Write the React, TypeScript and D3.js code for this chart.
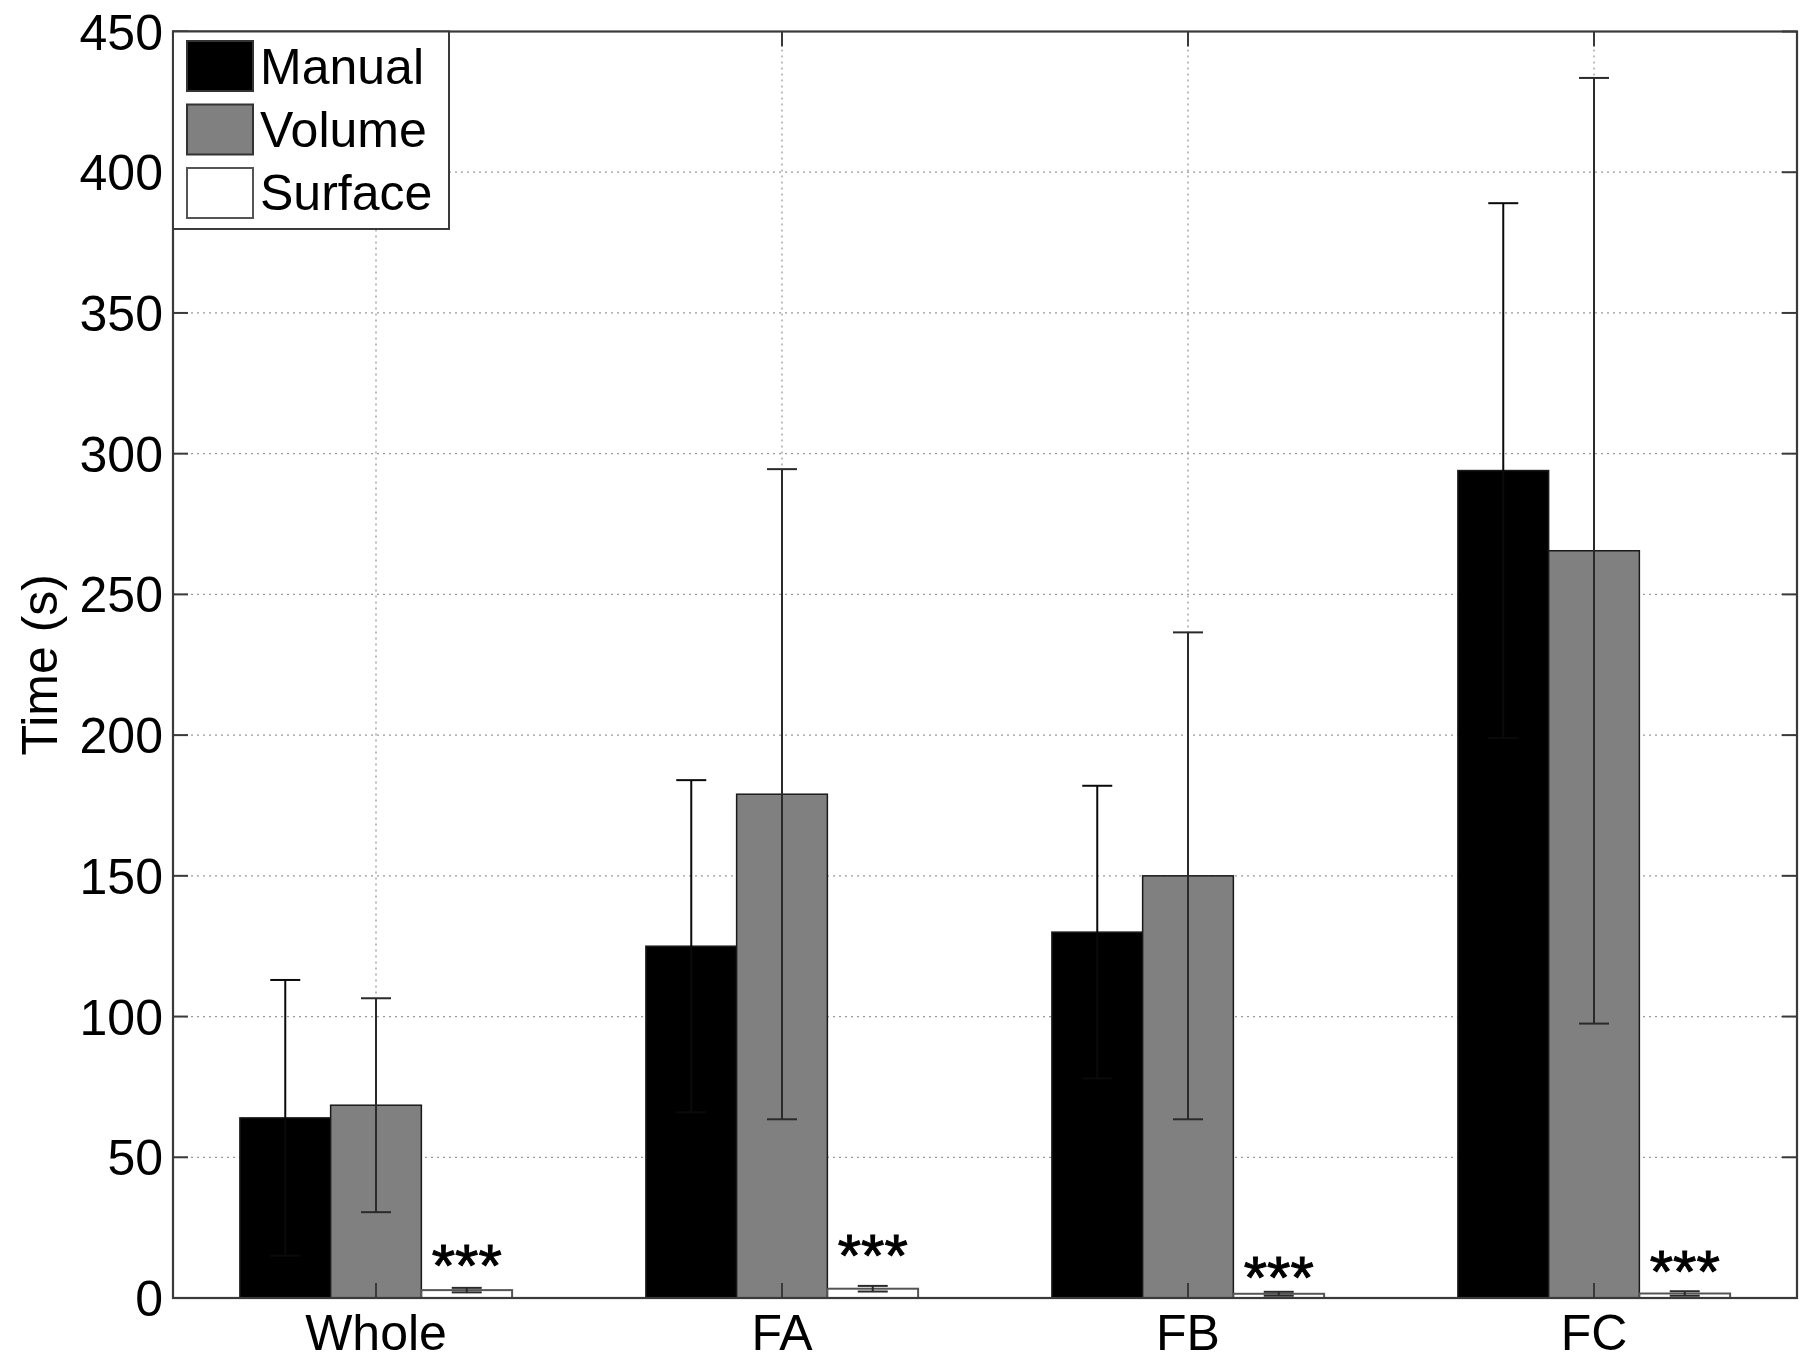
import React from "react";
import * as d3 from "d3";

const categories = ["Whole", "FA", "FB", "FC"];
const seriesNames = ["Manual", "Volume", "Surface"];
const seriesColors = ["#000000", "#808080", "#ffffff"];
const manualMean = [64, 125, 130, 294];
const manualErr = [49, 59, 52, 95];
const volumeMean = [68.5, 179, 150, 265.5];
const volumeErr = [38, 115.5, 86.5, 168];
const surfaceMean = [2.8, 3.3, 1.5, 1.6];
const surfaceErr = [0.8, 1.0, 0.7, 0.8];
const starLevels = [16.5, 20, 12, 14.2];
const starText = "***";
const yTicks = [0, 50, 100, 150, 200, 250, 300, 350, 400, 450];
const yLabel = "Time (s)";

const W = 1802;
const H = 1361;
const L = 173;
const R = 1797;
const T = 31.5;
const B = 1298;
const FONT = "'Liberation Sans', Arial, Helvetica, sans-serif";

export default function App() {
  const x = d3.scaleLinear().domain([0.5, 4.5]).range([L, R]);
  const y = d3.scaleLinear().domain([0, 450]).range([B, T]);
  const barW = 0.2235;
  const means = [manualMean, volumeMean, surfaceMean];
  const errs = [manualErr, volumeErr, surfaceErr];
  const axisColor = "#3a3a3a";
  const tickLen = 15;
  const starSize = 60;

  return (
    <svg
      width={W}
      height={H}
      style={{ position: "absolute", left: 0, top: 0, background: "#fff" }}
      fontFamily={FONT}
    >
      <rect x={0} y={0} width={W} height={H} fill="#fff" />
      {/* grid */}
      {yTicks.slice(1, -1).map((t) => (
        <line key={"gy" + t} x1={L} x2={R} y1={y(t)} y2={y(t)} stroke="#9a9a9a" strokeWidth={1.3} strokeDasharray="2,4" />
      ))}
      {categories.map((c, i) => (
        <line key={"gx" + c} x1={x(i + 1)} x2={x(i + 1)} y1={T} y2={B} stroke="#9a9a9a" strokeWidth={1.3} strokeDasharray="2,4" />
      ))}
      {/* bars */}
      {categories.map((c, i) =>
        means.map((m, s) => {
          const x0 = x(i + 1 + (s - 1) * barW - barW / 2);
          const x1 = x(i + 1 + (s - 1) * barW + barW / 2);
          return (
            <rect
              key={c + s}
              x={x0}
              y={y(m[i])}
              width={x1 - x0}
              height={y(0) - y(m[i])}
              fill={seriesColors[s]}
              stroke={s === 2 ? "#555" : "#1a1a1a"}
              strokeWidth={s === 2 ? 2 : 1.5}
            />
          );
        })
      )}
      {/* error bars */}
      {categories.map((c, i) =>
        means.map((m, s) => {
          const cx = x(i + 1 + (s - 1) * barW);
          const lo = y(m[i] - errs[s][i]);
          const hi = y(m[i] + errs[s][i]);
          const cap = 15;
          const col = s === 0 ? "#0a0a0a" : "#2a2a2a";
          return (
            <g key={"e" + c + s} stroke={col} strokeWidth={2}>
              <line x1={cx} x2={cx} y1={lo} y2={hi} />
              <line x1={cx - cap} x2={cx + cap} y1={hi} y2={hi} />
              <line x1={cx - cap} x2={cx + cap} y1={lo} y2={lo} />
            </g>
          );
        })
      )}
      {/* stars */}
      {categories.map((c, i) => (
        <text
          key={"st" + c}
          x={x(i + 1 + barW)}
          y={y(starLevels[i]) + 0.57 * starSize}
          fontSize={starSize}
          textAnchor="middle"
          fill="#000"
          stroke="#000"
          strokeWidth={1}
        >
          {starText}
        </text>
      ))}
      {/* axes box */}
      <rect x={L} y={T} width={R - L} height={B - T} fill="none" stroke={axisColor} strokeWidth={2.2} />
      {yTicks.map((t) => (
        <g key={"yt" + t}>
          <line x1={L} x2={L + tickLen} y1={y(t)} y2={y(t)} stroke={axisColor} strokeWidth={2} />
          <line x1={R} x2={R - tickLen} y1={y(t)} y2={y(t)} stroke={axisColor} strokeWidth={2} />
          <text x={L - 10} y={y(t) + 18} fontSize={50} textAnchor="end" fill="#000">
            {t}
          </text>
        </g>
      ))}
      {categories.map((c, i) => (
        <g key={"xt" + c}>
          <line x1={x(i + 1)} x2={x(i + 1)} y1={B} y2={B - tickLen} stroke={axisColor} strokeWidth={2} />
          <line x1={x(i + 1)} x2={x(i + 1)} y1={T} y2={T + tickLen} stroke={axisColor} strokeWidth={2} />
          <text x={x(i + 1)} y={1350} fontSize={50} textAnchor="middle" fill="#000">
            {c}
          </text>
        </g>
      ))}
      <text
        transform={`translate(57,${(T + B) / 2}) rotate(-90)`}
        fontSize={50}
        textAnchor="middle"
        fill="#000"
      >
        {yLabel}
      </text>
      {/* legend */}
      <rect x={L} y={T} width={449 - L} height={229 - T} fill="#fff" stroke={axisColor} strokeWidth={2} />
      {seriesNames.map((n, s) => (
        <g key={"lg" + n}>
          <rect
            x={187}
            y={41 + s * 63.5}
            width={66}
            height={50}
            fill={seriesColors[s]}
            stroke={s === 2 ? "#555" : "#333"}
            strokeWidth={2}
          />
          <text x={260} y={84 + s * 63} fontSize={50} fill="#000">
            {n}
          </text>
        </g>
      ))}
    </svg>
  );
}
